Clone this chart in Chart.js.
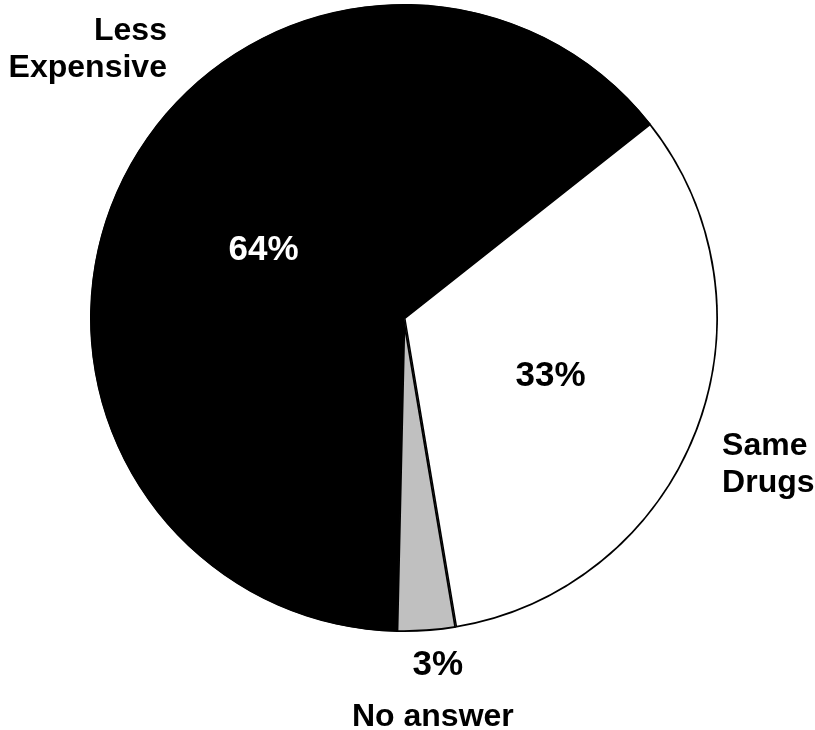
<!DOCTYPE html>
<html>
<head>
<meta charset="utf-8">
<script src="https://cdn.jsdelivr.net/npm/chart.js@4.4.1/dist/chart.umd.min.js"></script>
<style>
  html, body { margin: 0; padding: 0; background: #fff; }
  #wrap { width: 815px; height: 730px; position: relative; }
</style>
</head>
<body>
<div id="wrap"><canvas id="pieChart"></canvas></div>
<script>
// --- data ---
const categories = ['Same Drugs', 'No answer', 'Less Expensive'];
const shares = [33, 3, 64];
const shareLabels = ['33%', '3%', '64%'];
const sliceColors = ['#ffffff', '#c0c0c0', '#000000'];

// --- label placement (offsets from the pie centre, in radius units) ---
// name: where the category text goes; pct: null means the value sits inside the slice
const labelSpots = [
    { name: { dx: 1.013, dy: 0.436, align: 'left', lines: ['Same', 'Drugs'] }, pct: null, pctColor: '#000' },
    { name: { dx: 0.092, dy: 1.30, align: 'center', lines: ['No answer'] }, pct: { dx: 0.108, dy: 1.137, align: 'center' }, pctColor: '#000' },
    { name: { dx: -0.755, dy: -0.885, align: 'right', lines: ['Less', 'Expensive'] }, pct: null, pctColor: '#fff' }
];

const NAME_FONT = 'bold 32px "Liberation Sans", Arial, sans-serif';
const PCT_FONT = 'bold 35px "Liberation Sans", Arial, sans-serif';
const LINE_H = 37;

const pieLabels = {
    id: 'pieLabels',
    afterDatasetsDraw(chart) {
        const ctx = chart.ctx;
        const meta = chart.getDatasetMeta(0);
        ctx.save();
        meta.data.forEach((arc, i) => {
            const spot = labelSpots[i];
            const r = arc.outerRadius;
            const cx = arc.x, cy = arc.y;

            // category name outside the pie
            ctx.font = NAME_FONT;
            ctx.fillStyle = '#000';
            ctx.textAlign = spot.name.align;
            ctx.textBaseline = 'alphabetic';
            spot.name.lines.forEach((line, k) => {
                ctx.fillText(line, cx + spot.name.dx * r, cy + spot.name.dy * r + k * LINE_H);
            });

            // percentage
            ctx.font = PCT_FONT;
            ctx.fillStyle = spot.pctColor;
            if (spot.pct) {
                ctx.textAlign = spot.pct.align;
                ctx.fillText(shareLabels[i], cx + spot.pct.dx * r, cy + spot.pct.dy * r);
            } else {
                const pos = arc.tooltipPosition();
                ctx.textAlign = 'center';
                ctx.textBaseline = 'middle';
                ctx.fillText(shareLabels[i], pos.x, pos.y + 2);
            }
        });
        ctx.restore();
    }
};

new Chart(document.getElementById('pieChart'), {
    type: 'pie',
    data: {
        labels: categories,
        datasets: [{
            data: shares,
            backgroundColor: sliceColors,
            borderColor: '#000',
            borderWidth: 1.5,
            borderAlign: 'inner'
        }]
    },
    options: {
        responsive: true,
        maintainAspectRatio: false,
        animation: false,
        rotation: 51.7,
        layout: { padding: { left: 90, right: 97, top: 4, bottom: 98 } },
        plugins: {
            legend: { display: false },
            tooltip: { enabled: false }
        }
    },
    plugins: [pieLabels]
});
</script>
</body>
</html>
